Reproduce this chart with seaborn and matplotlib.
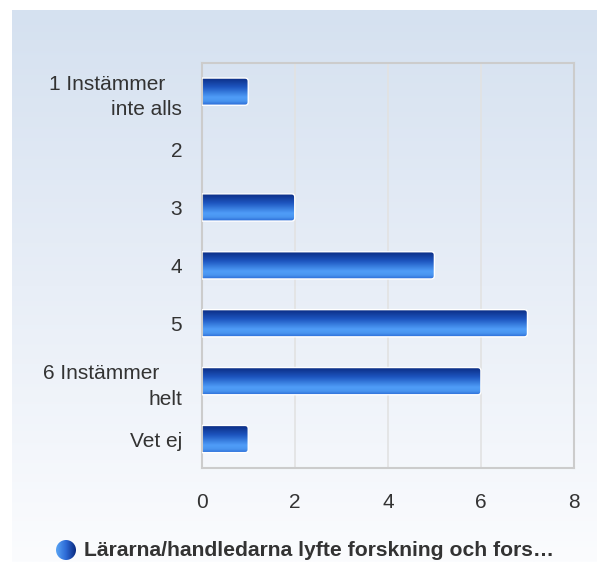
import numpy as np
import matplotlib
matplotlib.use("Agg")
import matplotlib.pyplot as plt
from matplotlib.colors import LinearSegmentedColormap
from matplotlib.patches import FancyBboxPatch, Circle
import seaborn as sns

categories = ["1 Instämmer\ninte alls", "2", "3", "4", "5", "6 Instämmer\nhelt", "Vet ej"]
values = [1, 0, 2, 5, 7, 6, 1]
series_name = "Lärarna/handledarna lyfte forskning och fors…"
x_ticks = [0, 2, 4, 6, 8]

sns.set_theme(style="white")
plt.rcParams['font.family'] = ['Liberation Sans', 'DejaVu Sans']

W, H = 597, 562
fig = plt.figure(figsize=(W / 100, H / 100), dpi=100)
fig.patch.set_facecolor("white")

# background gradient panel
bg = fig.add_axes([12 / W, 0, 1 - 12 / W, 1 - 10 / H], zorder=-10)
bgcmap = LinearSegmentedColormap.from_list("bg", ["#d5e1f0", "#e8eef7", "#fbfcfe"])
bg.imshow(np.linspace(0, 1, 256).reshape(-1, 1), cmap=bgcmap, aspect="auto",
          extent=[0, 1, 0, 1], origin="upper")
bg.set_axis_off()

ax = fig.add_axes([201.7 / W, 1 - 468 / H, (574 - 201.7) / W, (468 - 62.7) / H])
ax.set_facecolor("none")

sns.barplot(x=values, y=categories, orient="h", ax=ax, width=0.47, color="#2060c0")

barcmap = LinearSegmentedColormap.from_list(
    "bar", [(0.0, "#0a2a80"), (0.35, "#1d55bf"), (0.72, "#4f9df8"),
            (0.86, "#4a95f0"), (1.0, "#2b6bd6")])
grad = np.linspace(0, 1, 128).reshape(-1, 1)

patches = list(ax.patches)
for p in patches:
    x0, y0, w, h = p.get_x(), p.get_y(), p.get_width(), p.get_height()
    p.set_visible(False)
    if w <= 0:
        continue
    fb = FancyBboxPatch((x0 - 0.2, y0), w + 0.2, h,
                        boxstyle="round,pad=0,rounding_size=0.07",
                        mutation_aspect=0.8, facecolor="none",
                        edgecolor="white", linewidth=1.0, zorder=3)
    ax.add_patch(fb)
    im = ax.imshow(grad, cmap=barcmap, aspect="auto",
                   extent=[x0 - 0.2, x0 + w, y0 + h, y0], zorder=2,
                   interpolation="bilinear")
    im.set_clip_path(fb)

ax.set_xlim(0, 8)
ax.set_ylim(6.5, -0.5)
ax.set_xticks(x_ticks)
ax.set_xticklabels([str(t) for t in x_ticks])

# wrapped labels: first line sits a little left of the second (as in the source)
first_line_pad = {0: "   ", 5: "    "}
ylabels = []
for i, c in enumerate(categories):
    if "\n" in c:
        a, b = c.split("\n", 1)
        ylabels.append(a + first_line_pad.get(i, "") + "\n" + b)
    else:
        ylabels.append(c)
ax.set_yticks(range(len(categories)))
ax.set_yticklabels(ylabels, linespacing=1.45)

ax.grid(axis="x", color="#e2e2e2", linewidth=1.2, zorder=0)
ax.set_axisbelow(True)
for s in ax.spines.values():
    s.set_color("#cccccc")
    s.set_linewidth(1.5)
ax.tick_params(axis="y", length=0, pad=14, labelsize=15, labelcolor="#333333")
ax.tick_params(axis="x", length=0, pad=18, labelsize=15, labelcolor="#333333")
ax.set_xlabel("")
ax.set_ylabel("")

# legend
lax = fig.add_axes([56 / W, 1 - 560 / H, 20 / W, 20 / H])
lcmap = LinearSegmentedColormap.from_list("leg", ["#5aa5f5", "#2d6ad6", "#0a2a80"])
circ = Circle((0.5, 0.5), 0.5, transform=lax.transData, facecolor="none", edgecolor="none")
lax.add_patch(circ)
lim = lax.imshow(np.linspace(0, 1, 64).reshape(1, -1), cmap=lcmap, aspect="auto",
                 extent=[0, 1, 0, 1], interpolation="bilinear")
lim.set_clip_path(circ)
lax.set_xlim(0, 1)
lax.set_ylim(0, 1)
lax.set_axis_off()
fig.text(84 / W, 1 - 550 / H, series_name, fontsize=15.2, fontweight="bold",
         color="#333333", va="center", ha="left")

fig.savefig("out.png", dpi=100)
